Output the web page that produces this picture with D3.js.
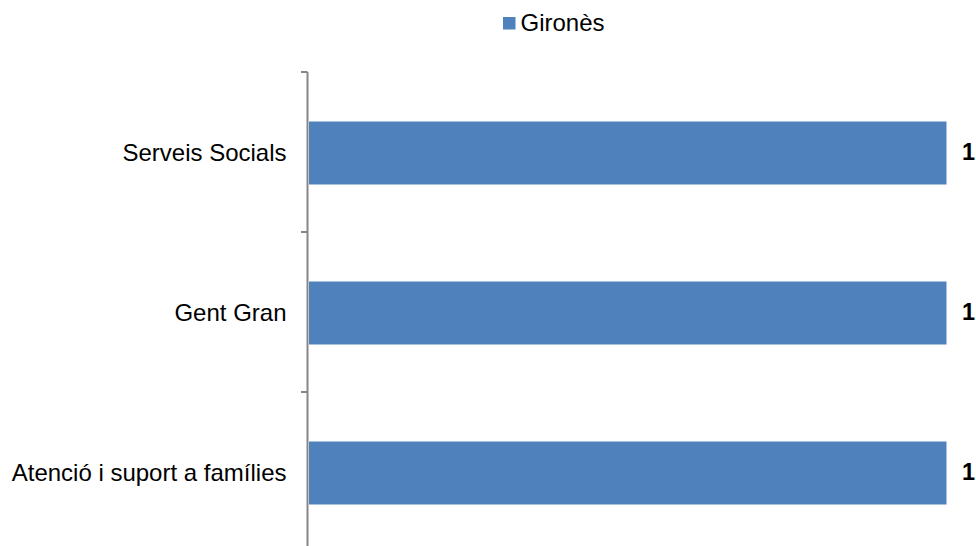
<!DOCTYPE html>
<html>
<head>
<meta charset="utf-8">
<script src="https://cdn.jsdelivr.net/npm/d3@7"></script>
<style>
  html, body { margin: 0; padding: 0; background: #fff; }
  svg { display: block; font-family: "Liberation Sans", Arial, sans-serif; }
</style>
</head>
<body>
<svg id="chart" width="976" height="546"></svg>
<script>
const categories = ["Serveis Socials", "Gent Gran", "Atenció i suport a famílies"];
const seriesName = "Gironès";
const values = [1, 1, 1];

const svg = d3.select("#chart");
const W = 976, H = 546;
const color = "#4F81BD";
const axisColor = "#868686";

const x = d3.scaleLinear().domain([0, 1]).range([309, 946.5]);
const y = d3.scaleBand().domain(categories).range([72, 552]).paddingInner(0.6).paddingOuter(0.3);

// bars
svg.append("g").selectAll("rect").data(categories).join("rect")
  .attr("x", x(0))
  .attr("y", d => y(d) + 1.5)
  .attr("width", (d, i) => x(values[i]) - x(0))
  .attr("height", y.bandwidth() - 1)
  .attr("fill", color);

// value labels
svg.append("g").selectAll("text").data(categories).join("text")
  .attr("x", (d, i) => x(values[i]) + 15.5)
  .attr("y", d => y(d) + y.bandwidth() / 2 + 1.5)
  .attr("dominant-baseline", "middle")
  .attr("font-size", 23.5)
  .attr("font-weight", "bold")
  .attr("fill", "#000")
  .text((d, i) => values[i]);

// category axis
const axis = d3.axisLeft(y).tickSize(0).tickPadding(21);
const gA = svg.append("g").attr("transform", "translate(307.5,0)").call(axis);
gA.select(".domain").attr("stroke", axisColor).attr("stroke-width", 2).attr("d", "M0,72V552");
gA.selectAll("text").attr("font-size", 24).attr("fill", "#000").attr("font-family", "Liberation Sans, Arial, sans-serif").attr("dy", "0.38em");

// boundary tick marks between categories
const step = y.step();
const bounds = d3.range(categories.length + 1).map(i => 72 + i * step);
svg.append("g").selectAll("line").data(bounds).join("line")
  .attr("x1", 301).attr("x2", 307.5)
  .attr("y1", d => d).attr("y2", d => d)
  .attr("stroke", axisColor).attr("stroke-width", 2);

// legend
const lg = svg.append("g");
lg.append("rect").attr("x", 503).attr("y", 17).attr("width", 12.5).attr("height", 12.5).attr("fill", color);
lg.append("text").attr("x", 520.5).attr("y", 30.5).attr("font-size", 24).attr("fill", "#000").text(seriesName);
</script>
</body>
</html>
